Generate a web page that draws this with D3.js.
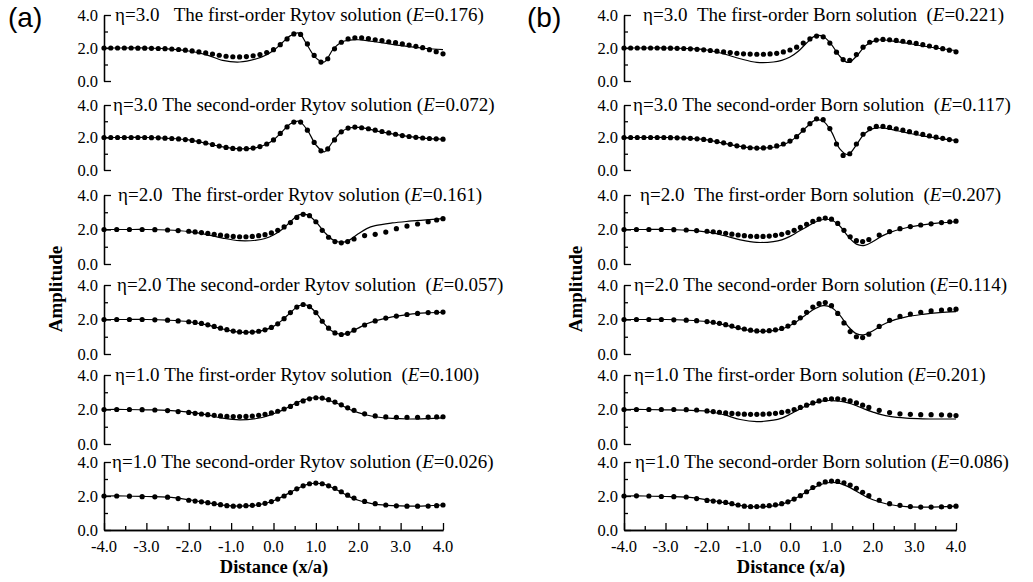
<!DOCTYPE html>
<html>
<head>
<meta charset="utf-8">
<script src="https://cdn.jsdelivr.net/npm/d3@7"></script>
<style>
  body { margin: 0; background: #fff; }
  text { font-family: "Liberation Serif", "Times New Roman", serif; fill: #000; }
</style>
</head>
<body>
<script>
// x positions of the solid curves
var lineX = [-4, -3.5, -3, -2.5, -2, -1.6, -1.2, -0.8, -0.4, -0.2, 0, 0.2, 0.4, 0.6, 0.8, 1.0,
  1.2, 1.4, 1.6, 1.8, 2.0, 2.2, 2.4, 2.8, 3.2, 3.6, 4.0];

// x positions of the dots, eta = 3.0 rows
var dotX3 = [-4, -3.84, -3.68, -3.52, -3.36, -3.2, -3.04, -2.88, -2.72, -2.56,
  -2.4, -2.24, -2.08, -1.92, -1.76, -1.6, -1.44, -1.28, -1.12, -0.96,
  -0.8, -0.64, -0.48, -0.32, -0.16, 0, 0.16, 0.32, 0.48, 0.64,
  0.8, 0.96, 1.12, 1.28, 1.44, 1.6, 1.76, 1.92, 2.08, 2.24,
  2.4, 2.56, 2.72, 2.88, 3.04, 3.2, 3.36, 3.52, 3.68, 3.84, 4.0];

// x positions of the dots, eta = 2.0 and 1.0 rows
var dotX12 = [-4, -3.7, -3.4, -3.1, -2.8, -2.5, -2.25, -2.0, -1.85, -1.7,
  -1.55, -1.4, -1.25, -1.1, -0.95, -0.8, -0.65, -0.5, -0.35, -0.2,
  -0.05, 0.1, 0.25, 0.4, 0.55, 0.7, 0.85, 1.0, 1.15, 1.3,
  1.45, 1.6, 1.75, 1.9, 2.15, 2.4, 2.65, 2.9, 3.15, 3.4,
  3.65, 3.85, 4.0];

// (a) Rytov: solid curves
var rytovLines = [
  [2.0, 2.0, 2.0, 1.95, 1.82, 1.6, 1.25, 1.15, 1.35, 1.55, 1.85, 2.3, 2.75, 2.9, 2.15, 1.4, 1.15, 1.9, 2.35, 2.48, 2.5, 2.45, 2.38, 2.22, 2.08, 1.97, 1.9],
  [2.0, 2.0, 2.0, 1.95, 1.85, 1.65, 1.42, 1.3, 1.38, 1.55, 1.85, 2.35, 2.85, 3.0, 2.45, 1.55, 1.12, 1.75, 2.35, 2.6, 2.62, 2.55, 2.42, 2.22, 2.05, 1.95, 1.9],
  [2.0, 2.0, 2.0, 1.97, 1.88, 1.72, 1.5, 1.35, 1.38, 1.48, 1.68, 2.0, 2.45, 2.85, 2.85, 2.45, 1.85, 1.4, 1.25, 1.4, 1.75, 2.05, 2.22, 2.38, 2.48, 2.56, 2.63],
  [2.0, 2.0, 2.0, 1.96, 1.87, 1.7, 1.45, 1.27, 1.3, 1.4, 1.6, 1.95, 2.4, 2.8, 2.82, 2.4, 1.75, 1.3, 1.13, 1.25, 1.5, 1.75, 1.92, 2.15, 2.3, 2.38, 2.42],
  [2.0, 2.0, 1.98, 1.95, 1.85, 1.7, 1.5, 1.4, 1.48, 1.58, 1.75, 1.95, 2.2, 2.45, 2.62, 2.68, 2.62, 2.45, 2.25, 2.0, 1.82, 1.68, 1.58, 1.48, 1.45, 1.47, 1.52],
  [2.0, 2.0, 1.97, 1.93, 1.78, 1.62, 1.46, 1.4, 1.47, 1.56, 1.72, 1.95, 2.22, 2.48, 2.68, 2.75, 2.68, 2.48, 2.22, 1.95, 1.75, 1.62, 1.52, 1.43, 1.4, 1.42, 1.47]
];

// (a) Rytov: dots
var rytovDots = [
  [2.0, 2.0, 2.0, 2.0, 2.0, 1.99, 1.99, 1.98, 1.97, 1.96,
   1.94, 1.91, 1.87, 1.82, 1.76, 1.7, 1.63, 1.56, 1.5, 1.47,
   1.46, 1.48, 1.53, 1.6, 1.72, 1.9, 2.2, 2.55, 2.85, 2.82,
   2.25, 1.55, 1.15, 1.35, 1.95, 2.35, 2.55, 2.62, 2.62, 2.57,
   2.5, 2.45, 2.38, 2.32, 2.25, 2.18, 2.1, 2.02, 1.9, 1.78, 1.65],
  [2.0, 2.0, 2.0, 2.0, 2.0, 2.0, 2.0, 1.99, 1.98, 1.96,
   1.94, 1.91, 1.87, 1.82, 1.75, 1.66, 1.57, 1.47, 1.39, 1.33,
   1.3, 1.31, 1.35, 1.44, 1.6, 1.85, 2.25, 2.65, 2.95, 2.95,
   2.45, 1.7, 1.18, 1.3, 1.85, 2.35, 2.58, 2.64, 2.6, 2.54,
   2.45, 2.37, 2.28, 2.2, 2.12, 2.06, 2.01, 1.97, 1.94, 1.92, 1.9],
  [2.0, 2.0, 2.0, 2.0, 1.99, 1.97, 1.94, 1.9, 1.86, 1.82,
   1.77, 1.72, 1.67, 1.63, 1.6, 1.58, 1.58, 1.6, 1.64, 1.7,
   1.8, 1.95, 2.15, 2.4, 2.7, 2.88, 2.8, 2.45, 1.95, 1.55,
   1.3, 1.23, 1.3, 1.45, 1.65, 1.72, 1.85, 2.05, 2.2, 2.32,
   2.45, 2.55, 2.63],
  [2.0, 2.0, 2.0, 2.0, 1.98, 1.96, 1.92, 1.87, 1.83, 1.77,
   1.69, 1.6, 1.5, 1.41, 1.33, 1.28, 1.26, 1.27, 1.32, 1.4,
   1.54, 1.75, 2.05, 2.4, 2.72, 2.87, 2.75, 2.4, 1.9, 1.5,
   1.22, 1.13, 1.2, 1.38, 1.68, 1.92, 2.08, 2.2, 2.29, 2.35,
   2.4, 2.42, 2.43],
  [2.0, 2.0, 2.0, 1.99, 1.97, 1.94, 1.88, 1.83, 1.78, 1.74,
   1.7, 1.66, 1.63, 1.6, 1.59, 1.59, 1.6, 1.62, 1.66, 1.72,
   1.8, 1.9, 2.03, 2.18, 2.35, 2.5, 2.62, 2.68, 2.66, 2.57,
   2.43, 2.27, 2.1, 1.95, 1.75, 1.63, 1.57, 1.55, 1.55, 1.55,
   1.56, 1.57, 1.58],
  [2.0, 2.0, 1.99, 1.96, 1.95, 1.93, 1.85, 1.75, 1.7, 1.66,
   1.61, 1.55, 1.49, 1.43, 1.4, 1.41, 1.43, 1.45, 1.5, 1.57,
   1.67, 1.82, 2.0, 2.2, 2.42, 2.6, 2.72, 2.76, 2.72, 2.6,
   2.45, 2.25, 2.05, 1.88, 1.68, 1.55, 1.47, 1.42, 1.4, 1.4,
   1.41, 1.43, 1.47]
];

// (b) Born: solid curves
var bornLines = [
  [2.0, 2.0, 2.0, 1.97, 1.88, 1.65, 1.35, 1.13, 1.15, 1.25, 1.45, 1.8, 2.3, 2.72, 2.7, 2.2, 1.5, 1.12, 1.5, 2.1, 2.4, 2.5, 2.45, 2.3, 2.12, 1.97, 1.85],
  [2.0, 2.0, 2.0, 1.96, 1.85, 1.65, 1.45, 1.35, 1.4, 1.52, 1.75, 2.15, 2.65, 3.05, 3.0, 2.35, 1.3, 0.95, 1.55, 2.25, 2.55, 2.6, 2.52, 2.3, 2.1, 1.95, 1.82],
  [2.0, 2.0, 2.0, 1.96, 1.86, 1.65, 1.4, 1.25, 1.3, 1.4, 1.6, 1.88, 2.15, 2.42, 2.58, 2.55, 2.2, 1.6, 1.15, 1.08, 1.3, 1.6, 1.82, 2.1, 2.27, 2.38, 2.45],
  [2.0, 2.0, 2.0, 1.96, 1.87, 1.7, 1.47, 1.32, 1.35, 1.45, 1.65, 1.95, 2.3, 2.62, 2.8, 2.7, 2.25, 1.6, 1.18, 1.12, 1.35, 1.65, 1.88, 2.15, 2.3, 2.4, 2.46],
  [2.0, 2.0, 1.98, 1.96, 1.9, 1.7, 1.42, 1.3, 1.38, 1.5, 1.72, 1.98, 2.22, 2.4, 2.5, 2.52, 2.48, 2.38, 2.22, 2.02, 1.85, 1.7, 1.6, 1.5, 1.46, 1.45, 1.46],
  [2.0, 2.0, 1.97, 1.93, 1.78, 1.62, 1.44, 1.36, 1.42, 1.52, 1.7, 1.95, 2.25, 2.52, 2.72, 2.8, 2.74, 2.55, 2.28, 2.0, 1.78, 1.62, 1.5, 1.38, 1.35, 1.36, 1.4]
];

// (b) Born: dots
var bornDots = [
  [2.0, 2.0, 2.0, 2.0, 2.0, 2.0, 1.99, 1.99, 1.98, 1.97,
   1.95, 1.92, 1.89, 1.85, 1.81, 1.76, 1.72, 1.68, 1.65, 1.63,
   1.62, 1.62, 1.64, 1.68, 1.76, 1.88, 2.05, 2.3, 2.55, 2.72,
   2.68, 2.3, 1.75, 1.3, 1.25, 1.6, 2.05, 2.35, 2.48, 2.52,
   2.5, 2.46, 2.41, 2.35, 2.28, 2.2, 2.12, 2.04, 1.96, 1.87, 1.77],
  [2.0, 2.0, 2.0, 2.0, 2.0, 2.0, 2.0, 1.99, 1.98, 1.97,
   1.95, 1.92, 1.88, 1.82, 1.75, 1.67, 1.58, 1.49, 1.42, 1.37,
   1.35, 1.36, 1.4, 1.48, 1.6, 1.78, 2.05, 2.45, 2.85, 3.15,
   3.1, 2.55, 1.6, 0.9, 1.0, 1.6, 2.2, 2.55, 2.68, 2.68,
   2.62, 2.54, 2.45, 2.36, 2.27, 2.19, 2.1, 2.02, 1.95, 1.87, 1.8],
  [2.0, 2.0, 2.0, 2.0, 1.99, 1.97, 1.94, 1.9, 1.87, 1.83,
   1.78, 1.73, 1.68, 1.64, 1.61, 1.6, 1.6, 1.62, 1.66, 1.72,
   1.82, 1.95, 2.12, 2.3, 2.47, 2.6, 2.66, 2.6, 2.35, 1.95,
   1.58, 1.35, 1.3, 1.42, 1.68, 1.88, 2.05, 2.17, 2.26, 2.33,
   2.4, 2.45, 2.48],
  [2.0, 2.0, 2.0, 2.0, 1.98, 1.96, 1.93, 1.88, 1.84, 1.78,
   1.7, 1.62, 1.53, 1.45, 1.38, 1.34, 1.33, 1.35, 1.4, 1.48,
   1.62, 1.82, 2.1, 2.42, 2.72, 2.92, 2.98, 2.8, 2.35, 1.8,
   1.3, 1.0, 0.95, 1.15, 1.6, 1.95, 2.18, 2.32, 2.42, 2.5,
   2.55, 2.58, 2.6],
  [2.0, 2.0, 2.0, 2.0, 2.0, 1.99, 1.97, 1.92, 1.88, 1.84,
   1.8, 1.77, 1.75, 1.73, 1.72, 1.72, 1.73, 1.75, 1.78, 1.83,
   1.9, 2.0, 2.12, 2.25, 2.38, 2.5, 2.58, 2.62, 2.62, 2.58,
   2.5, 2.38, 2.25, 2.12, 1.95, 1.82, 1.75, 1.72, 1.7, 1.7,
   1.69, 1.67, 1.65],
  [2.0, 2.01, 2.0, 1.97, 1.96, 1.94, 1.85, 1.74, 1.7, 1.66,
   1.62, 1.55, 1.47, 1.4, 1.37, 1.38, 1.4, 1.43, 1.48, 1.55,
   1.66, 1.82, 2.02, 2.25, 2.5, 2.7, 2.83, 2.88, 2.86, 2.78,
   2.64, 2.45, 2.22, 2.02, 1.75, 1.55, 1.45, 1.38, 1.35, 1.35,
   1.36, 1.38, 1.4]
];

var etaLabels = ["η=3.0", "η=3.0", "η=2.0", "η=2.0", "η=1.0", "η=1.0"];
var rytovNames = ["The first-order Rytov solution", "The second-order Rytov solution",
  "The first-order Rytov solution", "The second-order Rytov solution",
  "The first-order Rytov solution", "The second-order Rytov solution"];
var bornNames = ["The first-order Born solution", "The second-order Born solution",
  "The first-order Born solution", "The second-order Born solution",
  "The first-order Born solution", "The second-order Born solution"];
var rytovE = ["0.176", "0.072", "0.161", "0.057", "0.100", "0.026"];
var bornE = ["0.221", "0.117", "0.207", "0.114", "0.201", "0.086"];

var yMajor = [0, 2, 4];
var yMinor = [1, 3];
var xMajor = [-4, -3, -2, -1, 0, 1, 2, 3, 4];
var xMinor = [-3.5, -2.5, -1.5, -0.5, 0.5, 1.5, 2.5, 3.5];

// layout
var tops = [15, 105, 195, 285, 375, 462];
var bottoms = [81, 170, 264, 354, 444, 530];

var panels = [
  { tag: "(a)", tagX: 8, x0: 104, x1: 443, ampX: 62, distX: 274,
    lines: rytovLines, dots: rytovDots, names: rytovNames, err: rytovE,
    titleX: [115, 113, 118, 117, 115, 112],
    gapA: ["   ", " ", "  ", " ", " ", " "], gapB: [" ", " ", " ", "  ", "  ", " "] },
  { tag: "(b)", tagX: 527, x0: 624, x1: 956, ampX: 582, distX: 791,
    lines: bornLines, dots: bornDots, names: bornNames, err: bornE,
    titleX: [643, 633, 640, 634, 634, 635],
    gapA: ["  ", " ", "  ", " ", " ", " "], gapB: ["  ", "  ", "  ", " ", " ", " "] }
];

var svg = d3.select("body").append("svg")
  .attr("width", 1033)
  .attr("height", 582);

function styleAxis(g) {
  g.selectAll("path, line").attr("stroke", "#000").attr("stroke-width", 1.3);
  g.selectAll("text").remove();
}

panels.forEach(function(p) {
  var x = d3.scaleLinear().domain([-4, 4]).range([p.x0, p.x1]);

  svg.append("text")
    .attr("x", p.tagX)
    .attr("y", 27)
    .style("font-family", "'Liberation Sans', Arial, sans-serif")
    .style("font-size", "28px")
    .text(p.tag);

  tops.forEach(function(top, i) {
    var y = d3.scaleLinear().domain([0, 4]).range([bottoms[i], top]);
    var g = svg.append("g");

    g.append("g")
      .attr("transform", `translate(${p.x0},0)`)
      .call(d3.axisRight(y).tickValues(yMajor).tickSize(7).tickSizeOuter(0))
      .call(styleAxis);
    g.append("g")
      .attr("transform", `translate(${p.x0},0)`)
      .call(d3.axisRight(y).tickValues(yMinor).tickSize(4).tickSizeOuter(0))
      .call(styleAxis);

    g.selectAll(null).data(yMajor).enter().append("text")
      .attr("x", p.x0 - 6)
      .attr("y", d => y(d) + 5.5)
      .attr("text-anchor", "end")
      .style("font-size", "16.5px")
      .text(d => d.toFixed(1));

    var pts = lineX.map((v, k) => [v, p.lines[i][k]]);
    g.append("path")
      .datum(pts)
      .attr("fill", "none")
      .attr("stroke", "#000")
      .attr("stroke-width", 1.2)
      .attr("d", d3.line().x(d => x(d[0])).y(d => y(d[1])).curve(d3.curveCatmullRom));

    var gx = i < 2 ? dotX3 : dotX12;
    g.selectAll("circle")
      .data(gx.map((v, k) => [v, p.dots[i][k]]))
      .enter()
      .append("circle")
      .attr("cx", d => x(d[0]))
      .attr("cy", d => y(d[1]))
      .attr("r", 2.6)
      .attr("fill", "#000");

    var t = g.append("text")
      .attr("x", p.titleX[i])
      .attr("y", top + 6)
      .style("font-size", "19px")
      .style("white-space", "pre");
    t.append("tspan").text(etaLabels[i] + p.gapA[i] + p.names[i] + p.gapB[i] + "(");
    t.append("tspan").style("font-style", "italic").text("E");
    t.append("tspan").text("=" + p.err[i] + ")");
  });

  var yb = bottoms[5];
  svg.append("g")
    .attr("transform", `translate(0,${yb})`)
    .call(d3.axisTop(x).tickValues(xMajor).tickSize(7).tickSizeOuter(0))
    .call(styleAxis);
  svg.append("g")
    .attr("transform", `translate(0,${yb})`)
    .call(d3.axisTop(x).tickValues(xMinor).tickSize(4).tickSizeOuter(0))
    .call(styleAxis);

  svg.selectAll(null).data(xMajor).enter().append("text")
    .attr("x", d => x(d))
    .attr("y", yb + 22)
    .attr("text-anchor", "middle")
    .style("font-size", "16.5px")
    .text(d => d.toFixed(1));

  svg.append("text")
    .attr("transform", `translate(${p.distX},${yb + 43})`)
    .attr("text-anchor", "middle")
    .style("font-size", "18.5px")
    .style("font-weight", "bold")
    .text("Distance (x/a)");

  svg.append("text")
    .attr("transform", `translate(${p.ampX},289) rotate(-90)`)
    .attr("text-anchor", "middle")
    .style("font-size", "19px")
    .style("font-weight", "bold")
    .text("Amplitude");
});
</script>
</body>
</html>
